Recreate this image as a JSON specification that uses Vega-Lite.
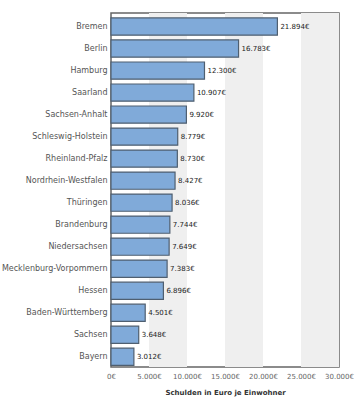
{
  "$schema": "https://vega.github.io/schema/vega-lite/v6.json",
  "autosize": "none",
  "width": 228,
  "height": 354,
  "padding": {"left": 111, "top": 13, "right": 18, "bottom": 33},
  "background": "white",
  "config": {
    "locale": {"number": {"decimal": ",", "thousands": ".", "grouping": [3], "currency": ["", "€"]}},
    "view": {"stroke": "#666666", "strokeWidth": 1.5},
    "font": "DejaVu Sans",
    "axis": {"labelOverlap": false}
  },
  "datasets": {
    "debt": [
      {"land": "Bremen", "wert": 21894},
      {"land": "Berlin", "wert": 16783},
      {"land": "Hamburg", "wert": 12300},
      {"land": "Saarland", "wert": 10907},
      {"land": "Sachsen-Anhalt", "wert": 9920},
      {"land": "Schleswig-Holstein", "wert": 8779},
      {"land": "Rheinland-Pfalz", "wert": 8730},
      {"land": "Nordrhein-Westfalen", "wert": 8427},
      {"land": "Thüringen", "wert": 8036},
      {"land": "Brandenburg", "wert": 7744},
      {"land": "Niedersachsen", "wert": 7649},
      {"land": "Mecklenburg-Vorpommern", "wert": 7383},
      {"land": "Hessen", "wert": 6896},
      {"land": "Baden-Württemberg", "wert": 4501},
      {"land": "Sachsen", "wert": 3648},
      {"land": "Bayern", "wert": 3012}
    ],
    "bands": [
      {"von": 5000, "bis": 10000},
      {"von": 15000, "bis": 20000},
      {"von": 25000, "bis": 30000}
    ]
  },
  "layer": [
    {
      "data": {"name": "bands"},
      "mark": {"type": "rect", "color": "#efefef"},
      "encoding": {
        "x": {"field": "von", "type": "quantitative",
          "scale": {"domain": [0, 30000], "nice": false},
          "axis": {"values": [0, 5000, 10000, 15000, 20000, 25000, 30000], "format": "$,.0f", "grid": false, "ticks": false, "domain": false,
            "labelFontSize": 7, "labelColor": "#666666", "labelPadding": 5, "labelFlush": false, "labelOverlap": false,
            "title": "Schulden in Euro je Einwohner", "titleFontSize": 7, "titleFontWeight": "bold", "titleColor": "#333333", "titlePadding": 9}},
        "x2": {"field": "bis"}
      }
    },
    {
      "data": {"name": "debt"},
      "mark": {"type": "bar", "fill": "#80aad9", "stroke": "#4f5f70", "strokeWidth": 1.2},
      "encoding": {
        "y": {"field": "land", "type": "nominal", "sort": null,
          "scale": {"paddingInner": 0.22, "paddingOuter": 0.15, "align": 0.75},
          "axis": {"title": null, "ticks": false, "domain": false, "labelFontSize": 8, "labelColor": "#555555", "labelPadding": 4, "labelFont": "DejaVu Sans"}},
        "x": {"field": "wert", "type": "quantitative",
          "axis": {"values": [0, 5000, 10000, 15000, 20000, 25000, 30000], "format": "$,.0f", "grid": false, "ticks": false, "domain": false,
            "labelFontSize": 7, "labelColor": "#666666", "labelPadding": 5, "labelFlush": false, "labelOverlap": false,
            "title": "Schulden in Euro je Einwohner", "titleFontSize": 7, "titleFontWeight": "bold", "titleColor": "#333333", "titlePadding": 9}}
      }
    },
    {
      "data": {"name": "debt"},
      "mark": {"type": "text", "align": "left", "baseline": "middle", "dx": 3, "fontSize": 7, "color": "#222222"},
      "encoding": {
        "y": {"field": "land", "type": "nominal", "sort": null},
        "x": {"field": "wert", "type": "quantitative",
          "axis": {"values": [0, 5000, 10000, 15000, 20000, 25000, 30000], "format": "$,.0f", "grid": false, "ticks": false, "domain": false,
            "labelFontSize": 7, "labelColor": "#666666", "labelPadding": 5, "labelFlush": false, "labelOverlap": false,
            "title": "Schulden in Euro je Einwohner", "titleFontSize": 7, "titleFontWeight": "bold", "titleColor": "#333333", "titlePadding": 9}},
        "text": {"field": "wert", "type": "quantitative", "format": "$,.0f"}
      }
    }
  ]
}
